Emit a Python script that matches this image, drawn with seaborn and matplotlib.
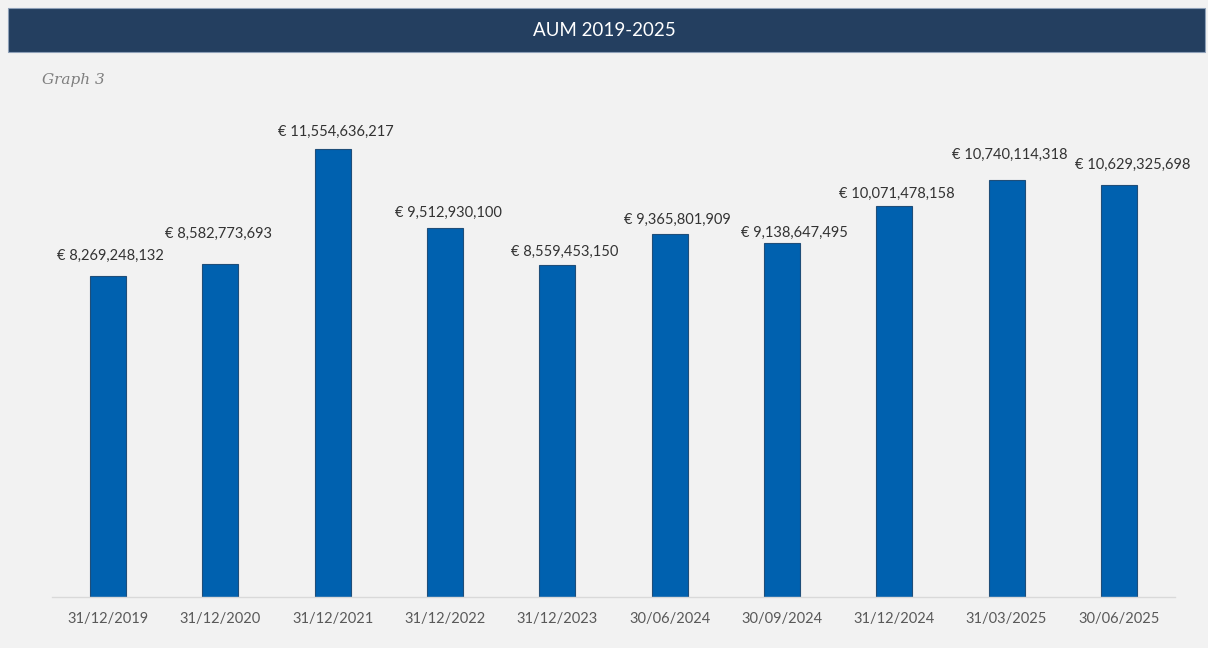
import matplotlib
matplotlib.use("Agg")
import matplotlib.pyplot as plt
import seaborn as sns
import pandas as pd
from matplotlib.patches import Rectangle

dates = ["31/12/2019", "31/12/2020", "31/12/2021", "31/12/2022", "31/12/2023",
         "30/06/2024", "30/09/2024", "31/12/2024", "31/03/2025", "30/06/2025"]
aum = [8269248132, 8582773693, 11554636217, 9512930100, 8559453150,
       9365801909, 9138647495, 10071478158, 10740114318, 10629325698]
title = "AUM 2019-2025"
subtitle = "Graph 3"

# manual data-label placement (pixels relative to bar top centre), as in the original
label_dx = [2, -2, 3, 3, 7.7, 7.5, 12, 3, 3.5, 14]
label_dy = [20, 29.7, 16.7, 14.7, 13, 14.3, 9.7, 12.7, 25.3, 20.3]

df = pd.DataFrame({"date": dates, "aum": aum})

sns.set_theme(style="white")
plt.rcParams["font.family"] = ["Lato", "DejaVu Sans"]

bg = "#F2F2F2"
fig = plt.figure(figsize=(12.08, 6.48), dpi=100, facecolor=bg)

# title bar
fig.patches.append(Rectangle((8/1208, 1-52/648), (1205-8)/1208, 44/648,
                             transform=fig.transFigure, facecolor="#243F60",
                             edgecolor="#8EA0B8", linewidth=0.8, zorder=0))
fig.text(0.5, 1-30/648, title, color="white", ha="center", va="center", fontsize=13.5)
fig.text(42/1208, 1-80/648, subtitle, color="#7F7F7F", ha="left", va="center",
         fontsize=11, style="italic", family=["DejaVu Serif"])

ax = fig.add_axes([52/1208, 1-597/648, (1175-52)/1208, (597-110)/648])
ax.set_facecolor(bg)
sns.barplot(data=df, x="date", y="aum", order=dates, color="#0061AF",
            width=0.32, edgecolor="#1F4E79", linewidth=0.8, saturation=1, ax=ax)
ax.set_ylim(0, 12.555e9)
ax.set_xlim(-0.5, len(dates)-0.5)
ax.set_xlabel("")
ax.set_ylabel("")
ax.set_yticks([])
for s in ["top", "right", "left"]:
    ax.spines[s].set_visible(False)
ax.spines["bottom"].set_color("#D9D9D9")
ax.spines["bottom"].set_linewidth(1)
ax.tick_params(axis="x", length=0, pad=11, labelsize=10.5, labelcolor="#595959")

for i, v in enumerate(aum):
    ax.annotate(f"€ {v:,.0f}", xy=(i, v), xytext=(label_dx[i], label_dy[i]),
                textcoords="offset pixels", ha="center", va="center",
                fontsize=10.5, color="#333333")

fig.savefig("out.png", dpi=100, facecolor=bg)
